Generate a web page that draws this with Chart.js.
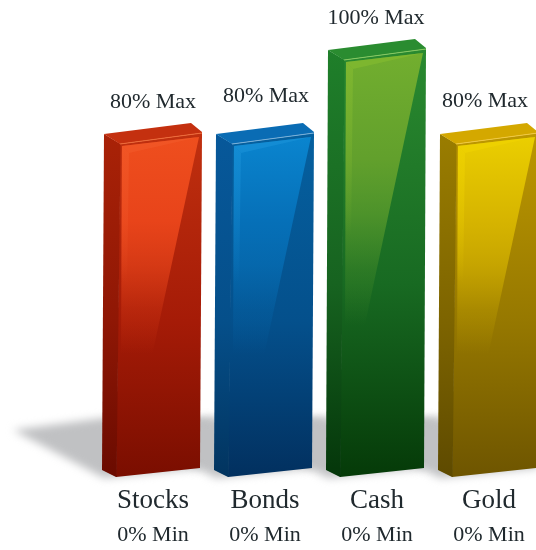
<!DOCTYPE html>
<html>
<head>
<meta charset="utf-8">
<style>
  html, body { margin: 0; padding: 0; background: #fff; overflow: hidden; }
  #wrap { width: 536px; height: 550px; overflow: hidden; }
</style>
<script src="https://cdn.jsdelivr.net/npm/chart.js@4/dist/chart.umd.min.js"></script>
</head>
<body>
<div id="wrap"><canvas id="chartLimits" width="560" height="550"></canvas></div>
<script>
const categories = ['Stocks', 'Bonds', 'Cash', 'Gold'];
const maxValues = [80, 80, 100, 80];
const minValues = [0, 0, 0, 0];

const INK = '#20292e';
const SERIF = '"Liberation Serif", serif';

// how far each "Max" caption sits above its bar, and its sideways nudge
const captionLift = [30, 36, 30, 31];
const captionNudge = [0, 1, -1, -4];

const palettes = [
  { panel: '#ef4f1e', panelMid: '#e8441a', top: '#c0300f', mid: '#a51b07', low: '#7a0e00', side: '#a92207', sideMid: '#8f1705', sideLow: '#6a0b00', cap: '#c4300f', edge: '#ee6a38', glow: '#f25a2a' },
  { panel: '#0a86d0', panelMid: '#0670b8', top: '#05609f', mid: '#04508c', low: '#02305f', side: '#07589a', sideMid: '#054f8a', sideLow: '#02345f', cap: '#0a6cb4', edge: '#7ab0d8', glow: '#1a92d8' },
  { panel: '#73af2f', panelMid: '#62a02c', top: '#2a8a30', mid: '#186a22', low: '#053a08', side: '#1f7f2a', sideMid: '#176320', sideLow: '#04360a', cap: '#2a8c30', edge: '#86c860', glow: '#86bc30' },
  { panel: '#ecd000', panelMid: '#d6b400', top: '#bd9800', mid: '#967800', low: '#6e5500', side: '#9a7d00', sideMid: '#7d6400', sideLow: '#5e4a00', cap: '#d4a800', edge: '#f0c840', glow: '#f0d400' }
];

const poly = (ctx, pts) => {
  ctx.beginPath();
  pts.forEach((p, i) => i ? ctx.lineTo(p[0], p[1]) : ctx.moveTo(p[0], p[1]));
  ctx.closePath();
};

const vgrad = (ctx, y0, y1, stops) => {
  const g = ctx.createLinearGradient(0, y0, 0, y1);
  stops.forEach(s => g.addColorStop(s[0], s[1]));
  return g;
};

// ground shadow falling back and to the left of each bar
const groundShadow = {
  id: 'groundShadow',
  beforeDatasetsDraw(chart) {
    const ctx = chart.ctx;
    ctx.save();
    ctx.filter = 'blur(4px)';
    ctx.fillStyle = '#c0c1c3';
    chart.getDatasetMeta(0).data.forEach(bar => {
      const l = bar.x - bar.width / 2, r = bar.x + bar.width / 2, b = bar.base;
      poly(ctx, [[l - 91, b - 38], [l, b - 50], [r + 12, b - 50], [r, b], [l, b + 10]]);
      ctx.fill();
    });
    ctx.restore();
  }
};

// paints the extruded block over the rectangle the bar element occupies
const blockBars = {
  id: 'blockBars',
  afterDatasetsDraw(chart) {
    const ctx = chart.ctx;
    chart.getDatasetMeta(0).data.forEach((bar, i) => {
      const c = palettes[i];
      const l = bar.x - bar.width / 2, r = bar.x + bar.width / 2;
      const t = bar.y, b = bar.base;
      const h = b - t;
      const fade = t + h * 0.66;

      const ftl = [l + 16, t + 12], ftr = [r, t + 1];
      const fbl = [l + 12, b + 9], fbr = [r - 2, b];

      // front panel, base tone
      ctx.fillStyle = vgrad(ctx, t, b + 9, [[0, c.top], [0.55, c.mid], [1, c.low]]);
      poly(ctx, [ftl, ftr, fbr, fbl]);
      ctx.fill();

      // lit area of the panel, cut by the diagonal on its right
      ctx.fillStyle = vgrad(ctx, t, fade, [
        [0, c.panel], [0.4, c.panelMid], [0.6, c.panelMid + 'b0'],
        [0.8, c.panelMid + '44'], [1, c.panelMid + '00']
      ]);
      poly(ctx, [[ftl[0] + 2, ftl[1] + 2], [r - 3, t + 5], [r - 3 - h * 0.66 * 0.21, fade], [ftl[0] + 1, fade]]);
      ctx.fill();

      // softer, brighter stripe along the top and left of the lit area
      ctx.save();
      ctx.globalAlpha = 0.6;
      ctx.fillStyle = c.glow;
      poly(ctx, [[ftl[0] + 2, ftl[1] + 2], [r - 3, t + 5], [ftl[0] + 9, ftl[1] + 9]]);
      ctx.fill();
      ctx.fillStyle = vgrad(ctx, ftl[1], t + h * 0.45, [[0, c.glow], [1, c.glow + '00']]);
      poly(ctx, [[ftl[0] + 2, ftl[1] + 2], [ftl[0] + 9, ftl[1] + 9], [ftl[0] + 7, t + h * 0.45], [ftl[0] + 1, t + h * 0.45]]);
      ctx.fill();
      ctx.restore();

      // left side face, lapping the panel edge by a hair so no seam shows
      ctx.fillStyle = vgrad(ctx, t, b + 9, [[0, c.side], [0.55, c.sideMid], [1, c.sideLow]]);
      poly(ctx, [[l, t + 2], [ftl[0] + 0.6, ftl[1]], [fbl[0] + 0.6, fbl[1]], fbl, [l - 2, b + 2]]);
      ctx.fill();

      // top cap
      ctx.fillStyle = c.cap;
      poly(ctx, [[l, t + 2], [r - 11, t - 9], [r, t], ftr, ftl]);
      ctx.fill();

      // lit edge along the front of the cap
      ctx.strokeStyle = c.edge;
      ctx.lineWidth = 1;
      ctx.beginPath();
      ctx.moveTo(ftl[0], ftl[1]);
      ctx.lineTo(ftr[0], ftr[1]);
      ctx.stroke();
    });
  }
};

// the "NN% Max" text above each bar
const maxLabels = {
  id: 'maxLabels',
  afterDraw(chart) {
    const ctx = chart.ctx;
    ctx.save();
    ctx.font = '22px ' + SERIF;
    ctx.fillStyle = INK;
    ctx.textAlign = 'center';
    ctx.textBaseline = 'middle';
    chart.getDatasetMeta(0).data.forEach((bar, i) => {
      ctx.fillText(maxValues[i] + '% Max', bar.x + captionNudge[i], bar.y - captionLift[i]);
    });
    ctx.restore();
  }
};

new Chart(document.getElementById('chartLimits'), {
  type: 'bar',
  data: {
    labels: categories,
    datasets: [{
      data: maxValues,
      backgroundColor: 'rgba(0,0,0,0)',
      barPercentage: 0.875,
      categoryPercentage: 1
    }]
  },
  options: {
    responsive: false,
    animation: false,
    layout: { padding: { left: 97, right: 15, top: 48, bottom: 1.8 } },
    plugins: { legend: { display: false }, tooltip: { enabled: false } },
    scales: {
      x: {
        grid: { display: false, tickLength: 12.6 },
        border: { display: false },
        ticks: { color: INK, font: { family: SERIF, size: 27 }, padding: 4.4, maxRotation: 0 }
      },
      minRow: {
        axis: 'x',
        type: 'category',
        position: 'bottom',
        labels: minValues.map(v => v + '% Min'),
        grid: { display: false, drawTicks: false },
        border: { display: false },
        ticks: { color: INK, font: { family: SERIF, size: 22 }, padding: 0, maxRotation: 0 }
      },
      y: {
        display: false,
        min: 0,
        max: 100,
        beginAtZero: true
      }
    }
  },
  plugins: [groundShadow, blockBars, maxLabels]
});
</script>
</body>
</html>
